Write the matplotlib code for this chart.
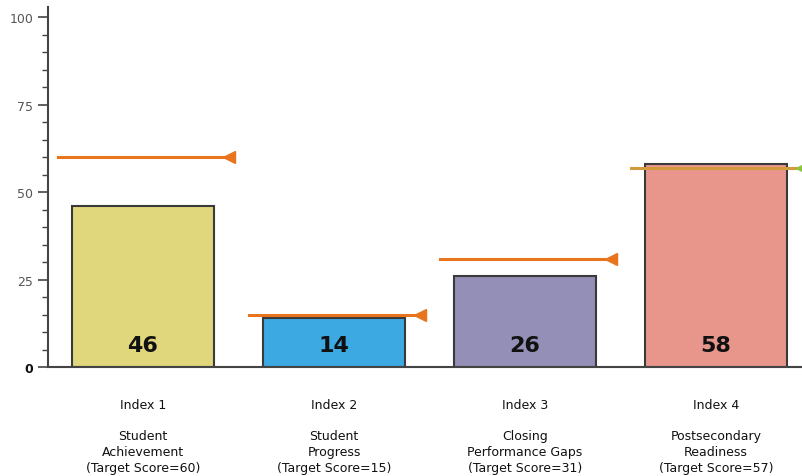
import matplotlib.pyplot as plt
import numpy as np

indexes = ["Index 1", "Index 2", "Index 3", "Index 4"]
names = ["Student\nAchievement", "Student\nProgress", "Closing\nPerformance Gaps", "Postsecondary\nReadiness"]
scores = [46, 14, 26, 58]
targets = [60, 15, 31, 57]
bar_colors = ["#e0d67c", "#3da9e2", "#938fb6", "#e8968c"]
target_colors = ["#e8741e", "#e8741e", "#e8741e", "#d29a3c"]
marker_colors = ["#e8741e", "#e8741e", "#e8741e", "#8cc43c"]

fig = plt.figure(figsize=(8.03, 4.77), dpi=100)
ax = fig.add_axes([48 / 803, 109 / 477, 1 - 48 / 803, (368 - 8) / 477])

x = np.arange(len(scores))
ax.bar(x, scores, width=0.745, color=bar_colors, edgecolor="#3a3a3a", linewidth=1.5, zorder=2)

for i in range(len(scores)):
    ax.plot([x[i] - 0.445, x[i] + 0.475], [targets[i], targets[i]], color=target_colors[i], lw=2.2, zorder=3)
    ax.plot(x[i] + 0.45, targets[i], marker="<", color=marker_colors[i], markersize=9, zorder=4)
    ax.text(x[i], 6.3, str(scores[i]), ha="center", va="center", fontsize=16, fontweight="bold", color="#111111", zorder=5)

ax.set_xlim(-0.497, 3.455)
ax.set_ylim(0, 103)
ax.set_yticks([0, 25, 50, 75, 100])
ax.set_yticks(np.arange(0, 101, 5), minor=True)
ax.tick_params(axis="y", which="major", length=7, width=1.2, colors="#444444", labelsize=9, labelcolor="#555555")
ax.tick_params(axis="y", which="minor", length=4, width=1.0, colors="#444444", direction="out")
ax.get_yticklabels()[0].set_fontweight("bold")
ax.get_yticklabels()[0].set_color("#111111")

ax.set_xticks(x)
ax.set_xticklabels([indexes[i] + "\n\n" + names[i] + "\n(Target Score=" + str(targets[i]) + ")" for i in range(4)],
                   fontsize=9, linespacing=1.28, color="#111111")
ax.tick_params(axis="x", length=0, pad=22)

ax.spines["top"].set_visible(False)
ax.spines["right"].set_visible(False)
ax.spines["left"].set_color("#444444")
ax.spines["left"].set_linewidth(1.5)
ax.spines["bottom"].set_color("#444444")
ax.spines["bottom"].set_linewidth(1.5)

fig.savefig("out.png", dpi=100)
